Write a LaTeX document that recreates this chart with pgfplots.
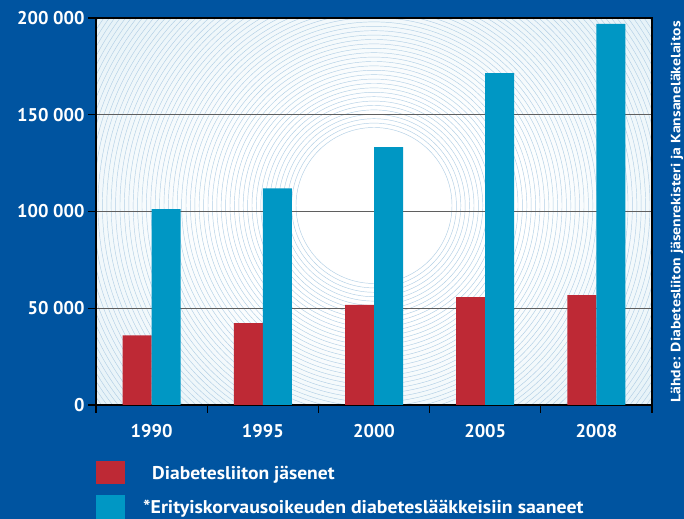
\documentclass[border=0pt]{standalone}
\usepackage{pgfplots}
\pgfplotsset{compat=1.18}
\usepackage{graphicx}
\usepackage{fontspec}
\setmainfont{PT Sans}
\definecolor{bg}{RGB}{0,84,160}
\definecolor{barred}{RGB}{190,41,53}
\definecolor{barcyan}{RGB}{0,151,196}
\definecolor{plotouter}{RGB}{212,233,242}
\definecolor{ringc}{RGB}{178,207,229}
\definecolor{gridc}{RGB}{95,95,95}
\pgfdeclareradialshading{plotshade}{\pgfpoint{0bp}{0bp}}{color(0bp)=(white); color(14bp)=(white); color(50bp)=(plotouter)}
\pgfplotstableread{
x red cyan
0 36000 101200
1 42300 112000
2 51700 133300
3 55800 171500
4 56800 197000
}\datatable
\newcommand{\lblfont}{\bfseries\fontsize{18.5}{20}\selectfont}
\begin{document}
\begin{tikzpicture}[x=1bp,y=1bp]
\path[use as bounding box, fill=bg] (0,0) rectangle (684,519);
\begin{axis}[
  at={(96bp,114bp)}, anchor=south west,
  scale only axis, width=556bp, height=387bp,
  xmin=-0.5, xmax=4.5, ymin=0, ymax=200000,
  axis background/.style={shading=plotshade, path picture={
      \foreach \r in {78,82.4,...,380}{\draw[ringc, line width=0.45bp] (path picture bounding box.center) ++(0,6bp) circle (\r bp);}
  }},
  axis line style={black, line width=1.3bp},
  tick pos=left, tick align=outside,
  major tick length=8bp,
  tick style={black, line width=1.3bp},
  ytick={0,50000,100000,150000,200000},
  yticklabels={0,{50 000},{100 000},{150 000},{200 000}},
  yticklabel style={font=\lblfont, text=white},
  scaled y ticks=false,
  xtick={-0.5,0.5,1.5,2.5,3.5,4.5},
  xticklabels={},
  extra x ticks={0,1,2,3,4},
  extra x tick labels={1990,1995,2000,2005,2008},
  extra x tick style={major tick length=0pt, xticklabel style={font=\lblfont, text=white, yshift=-16bp}},
  ymajorgrids, major grid style={gridc, line width=1.3bp},
  ybar, bar width=29bp,
]
\addplot[fill=barred, draw=none, bar shift=-14.5bp] table[x=x, y=red] {\datatable};
\addplot[fill=barcyan, draw=none, bar shift=14.5bp] table[x=x, y=cyan] {\datatable};
\end{axis}
\fill[barred] (96,35) rectangle (125,58);
\fill[barcyan] (96,0) rectangle (125,24);
\node[anchor=base west, inner sep=0, text=white, font=\lblfont] at (152,39) {\scalebox{1.06}[1]{Diabetesliiton jäsenet}};
\node[anchor=base west, inner sep=0, text=white, font=\lblfont] at (143,5) {\scalebox{1.075}[1]{*Erityiskorvausoikeuden diabeteslääkkeisiin saaneet}};
\node[anchor=base, inner sep=0, text=white, font=\bfseries\fontsize{13.5}{15}\selectfont, rotate=90] at (680.3,307) {\scalebox{1.17}[1]{Lähde: Diabetesliiton jäsenrekisteri ja Kansaneläkelaitos}};
\end{tikzpicture}
\end{document}
